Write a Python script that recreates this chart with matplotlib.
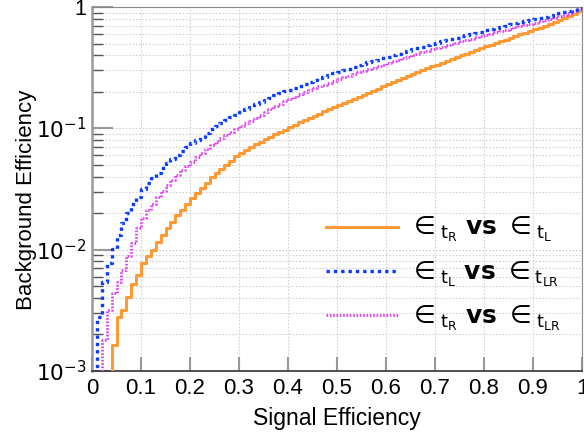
import numpy as np
import matplotlib
matplotlib.use("Agg")
import matplotlib.pyplot as plt
from matplotlib.ticker import FixedLocator, FixedFormatter, NullFormatter

plt.rcParams['font.family'] = ['Liberation Sans', 'DejaVu Sans']
plt.rcParams['mathtext.fontset'] = 'dejavusans'

# 100 bins of signal efficiency, 0..1
n_bins = 100

eff_tR_vs_tL = [
    0, 0, 0, 0, 0.00164, 0.00277, 0.00318, 0.00409, 0.0052, 0.00617,
    0.0077, 0.00885, 0.0099, 0.0116, 0.0132, 0.0150, 0.0170, 0.0193, 0.0212, 0.0238,
    0.0265, 0.0291, 0.0320, 0.0356, 0.0394, 0.0427, 0.0462, 0.0501, 0.0543, 0.0586,
    0.0631, 0.0668, 0.0705, 0.0741, 0.0776, 0.0813, 0.0851, 0.0891, 0.0933, 0.0977,
    0.1023, 0.1072, 0.1119, 0.1169, 0.1219, 0.1271, 0.1324, 0.1380, 0.1439, 0.1496,
    0.1556, 0.1618, 0.1683, 0.1750, 0.1820, 0.1892, 0.1968, 0.2046, 0.2128, 0.2213,
    0.2301, 0.2393, 0.2489, 0.2588, 0.2692, 0.2799, 0.2904, 0.3013, 0.3126, 0.3243,
    0.3357, 0.3475, 0.3597, 0.3724, 0.3855, 0.3990, 0.4130, 0.4276, 0.4426, 0.4581,
    0.4742, 0.4898, 0.5058, 0.5224, 0.5395, 0.5572, 0.5754, 0.5943, 0.6138, 0.6339,
    0.6546, 0.6761, 0.6982, 0.7228, 0.7482, 0.7762, 0.8072, 0.8414, 0.8810, 0.9333,
]

eff_tL_vs_tLR = [
    0, 0.0028, 0.0054, 0.0077, 0.0102, 0.0132, 0.0165, 0.0199, 0.0240, 0.0273,
    0.0314, 0.0352, 0.0390, 0.0430, 0.0468, 0.0514, 0.0555, 0.0600, 0.0650, 0.0697,
    0.0750, 0.0800, 0.0850, 0.0910, 0.0980, 0.1040, 0.1105, 0.1170, 0.1235, 0.1300,
    0.1365, 0.1432, 0.1500, 0.1572, 0.1645, 0.1720, 0.1795, 0.1866, 0.1941, 0.2014,
    0.2089, 0.2168, 0.2249, 0.2333, 0.2415, 0.2500, 0.2582, 0.2667, 0.2754, 0.2844,
    0.2931, 0.3020, 0.3112, 0.3206, 0.3304, 0.3396, 0.3491, 0.3589, 0.3690, 0.3793,
    0.3899, 0.4009, 0.4121, 0.4236, 0.4345, 0.4467, 0.4581, 0.4710, 0.4831, 0.4955,
    0.5082, 0.5200, 0.5333, 0.5458, 0.5598, 0.5728, 0.5861, 0.5998, 0.6138, 0.6281,
    0.6427, 0.6577, 0.6730, 0.6887, 0.7031, 0.7194, 0.7345, 0.7499, 0.7656, 0.7816,
    0.7980, 0.8147, 0.8318, 0.8492, 0.8670, 0.8851, 0.9036, 0.9247, 0.9462, 0.9770,
]

eff_tR_vs_tLR = [
    0, 0, 0.0018, 0.0032, 0.0044, 0.0054, 0.0068, 0.0089, 0.0114, 0.0150,
    0.0181, 0.0212, 0.0240, 0.0273, 0.0306, 0.0340, 0.0375, 0.0412, 0.0453, 0.0489,
    0.0530, 0.0577, 0.0622, 0.0670, 0.0728, 0.0775, 0.0825, 0.0875, 0.0930, 0.0985,
    0.1040, 0.1098, 0.1158, 0.1220, 0.1300, 0.1370, 0.1440, 0.1515, 0.1590, 0.1665,
    0.1745, 0.1824, 0.1901, 0.1982, 0.2061, 0.2138, 0.2213, 0.2291, 0.2377, 0.2460,
    0.2541, 0.2624, 0.2710, 0.2799, 0.2891, 0.2979, 0.3069, 0.3162, 0.3258, 0.3357,
    0.3459, 0.3565, 0.3673, 0.3784, 0.3890, 0.4009, 0.4121, 0.4236, 0.4355, 0.4477,
    0.4592, 0.4710, 0.4842, 0.4955, 0.5093, 0.5212, 0.5346, 0.5470, 0.5610, 0.5754,
    0.5888, 0.6039, 0.6180, 0.6339, 0.6486, 0.6637, 0.6792, 0.6934, 0.7096, 0.7261,
    0.7430, 0.7603, 0.7798, 0.7980, 0.8185, 0.8395, 0.8630, 0.8892, 0.9183, 0.9594,
]

labels = [r'$\in_{\mathrm{t}_{\mathrm{R}}}\ \mathbf{vs}\ \in_{\mathrm{t}_{\mathrm{L}}}$',
          r'$\in_{\mathrm{t}_{\mathrm{L}}}\ \mathbf{vs}\ \in_{\mathrm{t}_{\mathrm{LR}}}$',
          r'$\in_{\mathrm{t}_{\mathrm{R}}}\ \mathbf{vs}\ \in_{\mathrm{t}_{\mathrm{LR}}}$']

x_ticks = [0, 0.1, 0.2, 0.3, 0.4, 0.5, 0.6, 0.7, 0.8, 0.9, 1.0]
x_tick_labels = ['0', '0.1', '0.2', '0.3', '0.4', '0.5', '0.6', '0.7', '0.8', '0.9', '1']
y_ticks = [1e-3, 1e-2, 1e-1, 1]
y_tick_labels = [r'$10^{-3}$', r'$10^{-2}$', r'$10^{-1}$', '1']

fig = plt.figure(figsize=(5.84, 4.40), dpi=100)
ax = fig.add_axes([92/584, 69/440, 490/584, 364/440])

edges = np.linspace(0, 1, n_bins + 1)

def draw(vals, **kw):
    v = np.asarray(vals, dtype=float)
    v = np.where(v > 0, v, 1e-6)
    ax.step(edges, np.append(v, v[-1]), where='post', **kw)

draw(eff_tR_vs_tL, color='#ff9933', lw=2.2, ls='-', label=labels[0], zorder=3)
draw(eff_tL_vs_tLR, color='#0a3cff', lw=2.4, ls=(0, (1.0, 1.2)), label=labels[1], zorder=4)
draw(eff_tR_vs_tLR, color='#e040f0', lw=2.0, ls=(0, (0.6, 0.6)), label=labels[2], zorder=3)

ax.set_yscale('log')
ax.set_xlim(0, 1)
ax.set_ylim(1e-3, 1)

ax.xaxis.set_major_locator(FixedLocator(x_ticks))
ax.xaxis.set_major_formatter(FixedFormatter(x_tick_labels))
ax.yaxis.set_major_locator(FixedLocator(y_ticks))
ax.yaxis.set_major_formatter(FixedFormatter(y_tick_labels))
minor_y = [m * 10.0 ** e for e in (-3, -2, -1) for m in range(2, 10)]
ax.yaxis.set_minor_locator(FixedLocator(minor_y))
ax.yaxis.set_minor_formatter(NullFormatter())

ax.grid(True, which='major', axis='x', color='#d2d2d2', ls=(0, (1.5, 1.5)), lw=0.8)
ax.grid(True, which='both', axis='y', color='#d2d2d2', ls=(0, (1.5, 1.5)), lw=0.8)
ax.set_axisbelow(True)

ax.tick_params(axis='x', which='major', direction='in', length=10, width=1.5,
               color='#999999', labelsize=16, pad=5)
ax.tick_params(axis='y', which='major', direction='in', length=15, width=1.5,
               color='#999999', labelsize=15.5, pad=4)
ax.tick_params(axis='y', which='minor', direction='in', length=8, width=1.0,
               color='#555555')

for s in ['top', 'right']:
    ax.spines[s].set_color('#888888')
    ax.spines[s].set_linewidth(0.8)
ax.spines['left'].set_color('#999999')
ax.spines['left'].set_linewidth(1.8)
ax.spines['bottom'].set_color('#333333')
ax.spines['bottom'].set_linewidth(1.2)

ax.set_xlabel('Signal Efficiency', fontsize=16.5, labelpad=6)
ax.set_ylabel('Background Efficiency', fontsize=16)
ax.yaxis.set_label_coords(-0.113, 0.47)

leg = ax.legend(loc='lower right', bbox_to_anchor=(0.988, 0.064), frameon=False,
                fontsize=18, handlelength=2.9, handletextpad=0.45,
                labelspacing=0.6, borderaxespad=0.2)

fig.savefig('out.png', dpi=100)
